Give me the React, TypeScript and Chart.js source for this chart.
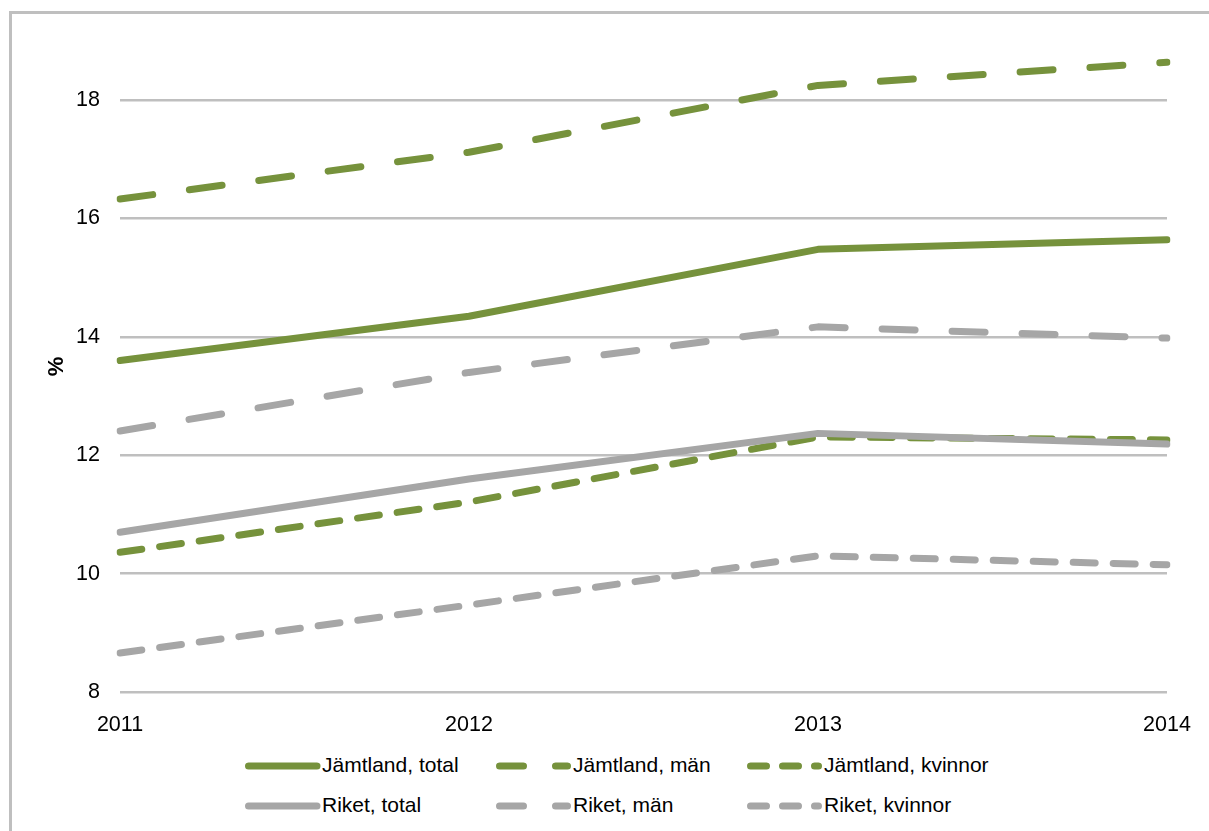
import React, { useEffect, useRef } from 'react';
import { Chart, registerables } from 'chart.js';

Chart.register(...registerables);

// ---- Data ----
const years = ['2011', '2012', '2013', '2014'];
const jamtlandTotal = [13.6, 14.35, 15.48, 15.64];
const jamtlandMan = [16.33, 17.12, 18.25, 18.64];
const jamtlandKvinnor = [10.36, 11.21, 12.31, 12.26];
const riketTotal = [10.7, 11.6, 12.37, 12.19];
const riketMan = [12.41, 13.4, 14.17, 13.98];
const riketKvinnor = [8.66, 9.47, 10.3, 10.15];

const seriesLabels = [
  'Jämtland, total',
  'Jämtland, män',
  'Jämtland, kvinnor',
  'Riket, total',
  'Riket, män',
  'Riket, kvinnor',
];
const seriesData = [jamtlandTotal, jamtlandMan, jamtlandKvinnor, riketTotal, riketMan, riketKvinnor];

const yMin = 8;
const yMax = 19;
const yStep = 2;
const yTitle = '%';

// ---- Styles ----
const GREEN = '#76923C';
const GRAY = '#A6A6A6';
const GRID = '#BFBFBF';
const FONT = '"Liberation Sans", Arial, Helvetica, sans-serif';
const seriesColors = [GREEN, GREEN, GREEN, GRAY, GRAY, GRAY];
const LONG_DASH = [33, 37];
const SHORT_DASH = [22, 18];
const seriesDash: number[][] = [[], LONG_DASH, SHORT_DASH, [], LONG_DASH, SHORT_DASH];
const legendDash = ['', '24 32', '16 16', '', '24 32', '16 16'];

export default function App() {
  const ref = useRef<HTMLCanvasElement>(null);

  useEffect(() => {
    document.body.style.margin = '0';
    const chart = new Chart(ref.current as HTMLCanvasElement, {
      type: 'line',
      data: {
        labels: years,
        datasets: seriesLabels.map((label, i) => ({
          label,
          data: seriesData[i],
          borderColor: seriesColors[i],
          backgroundColor: seriesColors[i],
          borderWidth: 7,
          borderDash: seriesDash[i],
          borderCapStyle: 'round',
          borderJoinStyle: 'round',
          pointRadius: 0,
          pointHoverRadius: 0,
          tension: 0,
          fill: false,
          order: seriesLabels.length - i,
        })),
      },
      options: {
        animation: false,
        responsive: false,
        maintainAspectRatio: false,
        events: [],
        layout: { padding: { left: 0, top: 41, right: 42, bottom: 0 } },
        plugins: {
          legend: { display: false },
          tooltip: { enabled: false },
        },
        scales: {
          x: {
            type: 'category',
            offset: false,
            grid: { display: false },
            border: { display: false },
            ticks: {
              color: '#000',
              font: { family: FONT, size: 21.5 },
              padding: 12,
              maxRotation: 0,
              autoSkip: false,
            },
            afterFit: (s: any) => {
              s.height = 48;
            },
          },
          y: {
            min: yMin,
            max: yMax,
            ticks: {
              stepSize: yStep,
              includeBounds: false,
              color: '#000',
              font: { family: FONT, size: 21.5 },
              padding: 20,
            },
            grid: { color: GRID, lineWidth: 2.5, drawTicks: false },
            border: { display: false },
            title: {
              display: true,
              text: yTitle,
              color: '#000',
              font: { family: FONT, size: 22, weight: 'bold' },
              padding: { top: 44, bottom: 0 },
            },
            afterFit: (s: any) => {
              s.width = 120;
            },
          },
        },
      },
    } as any);
    return () => chart.destroy();
  }, []);

  const columns = [245, 496, 747];
  const rowCenters = [766, 806];

  return (
    <div
      style={{
        position: 'absolute',
        left: 0,
        top: 0,
        width: 1209,
        height: 831,
        overflow: 'hidden',
        background: '#fff',
        fontFamily: FONT,
      }}
    >
      <div
        style={{
          position: 'absolute',
          left: 9,
          top: 11,
          width: 1400,
          height: 1000,
          border: `3px solid ${GRID}`,
          boxSizing: 'border-box',
        }}
      />
      <canvas
        ref={ref}
        width={1209}
        height={740}
        style={{ position: 'absolute', left: 0, top: 0, width: 1209, height: 740, display: 'block' }}
      />
      {seriesLabels.map((label, i) => {
        const col = i % 3;
        const row = Math.floor(i / 3);
        const left = columns[col];
        const cy = rowCenters[row];
        return (
          <React.Fragment key={label}>
            <svg
              width={80}
              height={20}
              style={{ position: 'absolute', left, top: cy - 10 }}
            >
              <line
                x1={3.5}
                y1={10}
                x2={legendDash[i] ? 71.5 : 72}
                y2={10}
                stroke={seriesColors[i]}
                strokeWidth={7}
                strokeLinecap="round"
                strokeDasharray={legendDash[i] || undefined}
              />
            </svg>
            <div
              style={{
                position: 'absolute',
                left: left + 77,
                top: cy - 14,
                fontSize: 21,
                lineHeight: '26px',
                color: '#000',
                whiteSpace: 'nowrap',
              }}
            >
              {label}
            </div>
          </React.Fragment>
        );
      })}
    </div>
  );
}
